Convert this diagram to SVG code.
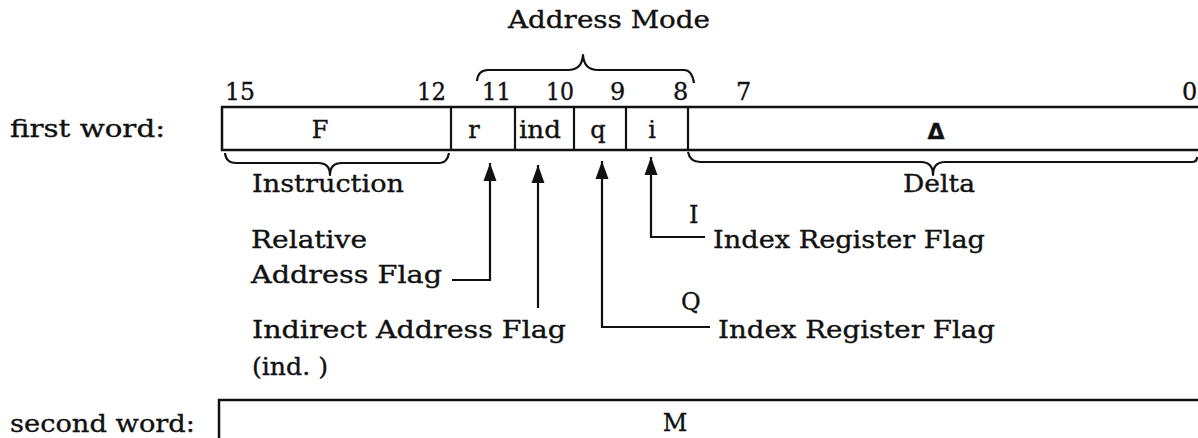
<svg xmlns="http://www.w3.org/2000/svg" width="1198" height="438" viewBox="0 0 1198 438">
<style>
text{font-family:"DejaVu Serif","Liberation Serif",serif;font-size:24px;fill:#111;stroke:#111;stroke-width:0.35}
.c{text-anchor:middle}
.box{fill:none;stroke:#111;stroke-width:2.5}
.ln{fill:none;stroke:#111;stroke-width:2.2}
.br{fill:none;stroke:#111;stroke-width:2.2;stroke-linejoin:round}
</style>
<defs>
<marker id="ah" markerUnits="userSpaceOnUse" markerWidth="18" markerHeight="14" refX="18" refY="6.5" orient="auto" viewBox="0 0 18 13">
<path d="M0,0 L18,6.5 L0,13 z" fill="#111"/>
</marker>
</defs>
<rect width="1198" height="438" fill="#fff"/>

<g id="labels">
<text x="10" y="137" textLength="155" lengthAdjust="spacingAndGlyphs">first word:</text>
<text x="10" y="432" textLength="185" lengthAdjust="spacingAndGlyphs">second word:</text>
<text x="508" y="28" textLength="202" lengthAdjust="spacingAndGlyphs">Address Mode</text>
</g>

<g id="bitnumbers">
<text x="225" y="100" textLength="30" lengthAdjust="spacingAndGlyphs">15</text>
<text x="417" y="100" textLength="29" lengthAdjust="spacingAndGlyphs">12</text>
<text x="482" y="100" textLength="29" lengthAdjust="spacingAndGlyphs">11</text>
<text x="546" y="100" textLength="28" lengthAdjust="spacingAndGlyphs">10</text>
<text x="610" y="100">9</text>
<text x="673" y="100">8</text>
<text x="736" y="100">7</text>
<text x="1182" y="100">0</text>
</g>

<g id="word1">
<path class="box" d="M1200,107 H222 V150 H1200"/>
<line class="ln" x1="451" y1="107" x2="451" y2="150"/>
<line class="ln" x1="515" y1="107" x2="515" y2="150"/>
<line class="ln" x1="574" y1="107" x2="574" y2="150"/>
<line class="ln" x1="626" y1="107" x2="626" y2="150"/>
<line class="ln" x1="688" y1="107" x2="688" y2="150"/>
<text class="c" x="320" y="138">F</text>
<text class="c" x="474" y="138">r</text>
<text class="c" x="540" y="138" textLength="42" lengthAdjust="spacingAndGlyphs">ind</text>
<text class="c" x="598" y="138">q</text>
<text class="c" x="652" y="138">i</text>
<text class="c" x="936" y="139" style="font-family:'DejaVu Sans','Liberation Sans',sans-serif;font-weight:bold;font-size:22px">Δ</text>
</g>

<g id="braces">
<path class="br" d="M477,81 Q478,70 488,70 L568,70 Q582,70 583,55 Q584,70 598,70 L684,70 Q692,70 694,83"/>
<path class="br" d="M225,153 Q226,163 236,163 L318,163 Q330,163 330,175 Q330,163 342,163 L440,163 Q447,163 449,153"/>
<path class="br" d="M688,152 Q690,162 700,162 L921,162 Q933,162 933,175 Q933,162 945,162 L1192,162 Q1197,162 1197,157"/>
<text x="252" y="192" textLength="152" lengthAdjust="spacingAndGlyphs">Instruction</text>
<text x="903" y="192" textLength="72" lengthAdjust="spacingAndGlyphs">Delta</text>
</g>

<g id="connectors">
<path class="ln" d="M452,280 H490 V163" marker-end="url(#ah)"/>
<path class="ln" d="M538,308 V165" marker-end="url(#ah)"/>
<path class="ln" d="M710,327 H602 V161" marker-end="url(#ah)"/>
<path class="ln" d="M705,237 H651 V157" marker-end="url(#ah)"/>
</g>

<g id="flag-labels">
<text x="251" y="248" textLength="116" lengthAdjust="spacingAndGlyphs">Relative</text>
<text x="251" y="283" textLength="191" lengthAdjust="spacingAndGlyphs">Address Flag</text>
<text x="252" y="338" textLength="314" lengthAdjust="spacingAndGlyphs">Indirect Address Flag</text>
<text x="252" y="375" textLength="76" lengthAdjust="spacingAndGlyphs">(ind. )</text>
<text x="689" y="223">I</text>
<text x="713" y="248" textLength="272" lengthAdjust="spacingAndGlyphs">Index Register Flag</text>
<text x="681" y="310">Q</text>
<text x="718" y="338" textLength="277" lengthAdjust="spacingAndGlyphs">Index Register Flag</text>
</g>

<g id="word2">
<path class="box" d="M1200,400 H219 V440"/>
<text x="675" y="431" class="c">M</text>
</g>
</svg>
